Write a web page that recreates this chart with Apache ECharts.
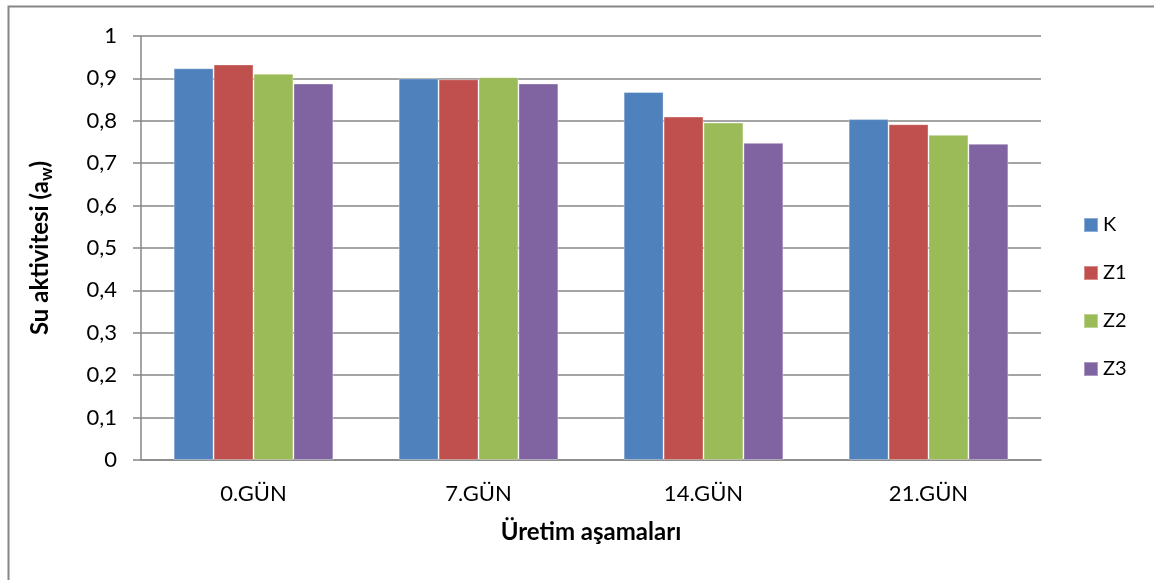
<!DOCTYPE html>
<html>
<head>
<meta charset="utf-8">
<script src="https://cdn.jsdelivr.net/npm/echarts@6/dist/echarts.min.js"></script>
<style>
  html, body { margin: 0; padding: 0; background: #fff; }
  #chart { width: 1154px; height: 580px; }
</style>
</head>
<body>
<div id="chart"></div>
<script>
// Production stages (x categories)
const categories = ['0.GÜN', '7.GÜN', '14.GÜN', '21.GÜN'];

// Water activity per sample group
const seriesNames = ['K', 'Z1', 'Z2', 'Z3'];
const valuesK  = [0.924, 0.900, 0.868, 0.804];
const valuesZ1 = [0.933, 0.898, 0.810, 0.792];
const valuesZ2 = [0.911, 0.903, 0.796, 0.767];
const valuesZ3 = [0.888, 0.888, 0.748, 0.746];
const seriesColors = ['#4F81BD', '#C0504D', '#9BBB59', '#8064A2'];

// Y axis tick labels (decimal comma)
const yTickLabels = ['0', '0,1', '0,2', '0,3', '0,4', '0,5', '0,6', '0,7', '0,8', '0,9', '1'];

const FONT = 'Lato, "Open Sans", sans-serif';
const allValues = [valuesK, valuesZ1, valuesZ2, valuesZ3];

const chart = echarts.init(document.getElementById('chart'), null, { renderer: 'canvas' });

chart.setOption({
  backgroundColor: '#ffffff',
  animation: false,
  textStyle: { fontFamily: FONT },
  graphic: [
    {
      // outer chart frame
      type: 'rect',
      shape: { x: 8.5, y: 6.5, width: 1160, height: 600 },
      style: { fill: 'none', stroke: '#868686', lineWidth: 2 },
      silent: true
    },
    {
      // rotated y axis title with subscript w
      type: 'text',
      x: 40,
      y: 248,
      rotation: Math.PI / 2,
      style: {
        rich: {
          t: { fontFamily: FONT, fontSize: 24, fontWeight: 'bold', fill: '#000' },
          s: { fontFamily: FONT, fontSize: 17, fontWeight: 'bold', fill: '#000', padding: [14, 0, 0, 0] }
        },
        text: '{t|Su aktivitesi (a}{s|w}{t|)}',
        align: 'center',
        verticalAlign: 'middle'
      },
      silent: true
    }
  ],
  legend: {
    orient: 'vertical',
    left: 1083,
    top: 215,
    padding: 0,
    itemWidth: 14,
    itemHeight: 14,
    itemGap: 28,
    icon: 'rect',
    textStyle: { fontFamily: FONT, fontSize: 20, lineHeight: 20, color: '#000', padding: [0, 0, 0, 0] },
    data: seriesNames
  },
  grid: {
    left: 141,
    right: 113,
    top: 36,
    bottom: 120,
    containLabel: false
  },
  xAxis: {
    type: 'category',
    data: categories,
    name: 'Üretim aşamaları',
    nameLocation: 'middle',
    nameGap: 72,
    nameTextStyle: { fontFamily: FONT, fontSize: 24, fontWeight: 'bold', color: '#000', verticalAlign: 'middle' },
    axisLine: { show: true, lineStyle: { color: '#868686', width: 1.5 } },
    axisTick: { show: false },
    axisLabel: { fontFamily: FONT, fontSize: 22, color: '#000', margin: 23 }
  },
  yAxis: {
    type: 'value',
    min: 0,
    max: 1,
    interval: 0.1,
    axisLine: { show: true, lineStyle: { color: '#868686', width: 1.5 } },
    axisTick: { show: true, length: 8, lineStyle: { color: '#868686', width: 1.5 } },
    splitLine: { show: true, lineStyle: { color: '#868686', width: 1.5 } },
    axisLabel: {
      fontFamily: FONT,
      fontSize: 22,
      color: '#000',
      margin: 24,
      formatter: function (v) {
        return yTickLabels[Math.round(v * 10)];
      }
    }
  },
  series: seriesNames.map(function (name, i) {
    return {
      name: name,
      type: 'bar',
      data: allValues[i],
      barGap: '0%',
      barCategoryGap: '29%',
      itemStyle: { color: seriesColors[i], borderColor: 'rgba(255,255,255,0.35)', borderWidth: 1 },
      emphasis: { disabled: true }
    };
  })
});
</script>
</body>
</html>
